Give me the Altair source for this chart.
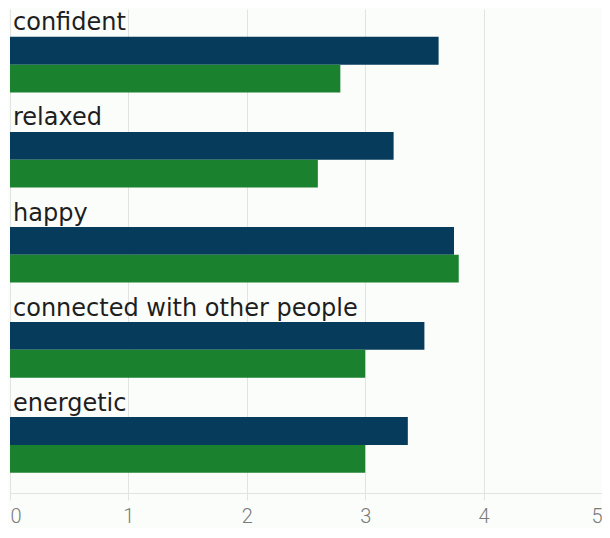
import altair as alt
import pandas as pd

categories = ["confident", "relaxed", "happy", "connected with other people", "energetic"]
series = ["Series 1", "Series 2"]
values_1 = [3.62, 3.24, 3.75, 3.50, 3.36]
values_2 = [2.79, 2.60, 3.79, 3.00, 3.00]
colors = ["#073b5c", "#1a812f"]
ticks = [0, 1, 2, 3, 4, 5]

rows = []
for c, a, b in zip(categories, values_1, values_2):
    rows.append({"category": c, "series": series[0], "value": a})
    rows.append({"category": c, "series": series[1], "value": b})
df = pd.DataFrame(rows)
lab = pd.DataFrame({"category": categories, "slot": ["label"] * len(categories)})

offdomain = ["label"] + series
yscale = alt.Scale(domain=categories, paddingInner=0.122, paddingOuter=0.1066, align=0)
offscale = alt.Scale(domain=offdomain, paddingInner=0, paddingOuter=0)

bars = alt.Chart(df).mark_bar().encode(
    x=alt.X("value:Q", scale=alt.Scale(domain=[0, 5], nice=False),
            axis=alt.Axis(values=ticks, title=None, grid=True, gridColor="#e2e4e2",
                          domainColor="#e2e4e2", tickColor="#e2e4e2", tickSize=7,
                          labelFontSize=20, labelColor="#7a7a7a", labelFont="Roboto",
                          labelFontWeight=300, labelPadding=6, format="d",
                          labelAlign={"condition": [
                              {"test": "datum.value == 5", "value": "right"},
                              {"test": "datum.value == 0", "value": "left"}],
                              "value": "center"})),
    y=alt.Y("category:N", scale=yscale, axis=None, sort=categories),
    yOffset=alt.YOffset("series:N", scale=offscale),
    color=alt.Color("series:N", scale=alt.Scale(domain=series, range=colors), legend=None),
)

text = alt.Chart(lab).mark_text(align="left", baseline="alphabetic", dx=3, dy=7.5,
                                fontSize=24, font="DejaVu Sans",
                                color="#1e1e1e").encode(
    x=alt.datum(0),
    y=alt.Y("category:N", scale=yscale, axis=None, sort=categories),
    yOffset=alt.YOffset("slot:N", scale=offscale),
    text="category:N",
)

chart = alt.layer(bars, text).properties(
    width=592, height=484,
    autosize=alt.AutoSizeParams(type="none"),
    padding={"left": 2, "top": 1, "right": 0, "bottom": 35},
    background="#fbfdfb",
).configure_view(stroke=None)

chart.save("out.html", embed_options={"renderer": "svg", "actions": False})
